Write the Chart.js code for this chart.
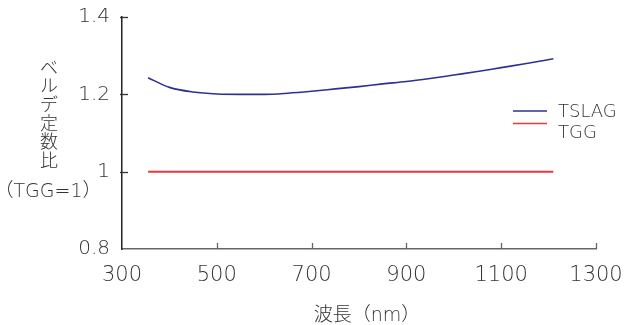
<!DOCTYPE html>
<html>
<head>
<meta charset="utf-8">
<script src="https://cdn.jsdelivr.net/npm/chart.js@4.4.1/dist/chart.umd.min.js"></script>
<style>
  html, body { margin: 0; padding: 0; background: #fff; }
  #wrap { width: 630px; height: 325px; }
</style>
</head>
<body>
<div id="wrap"><canvas id="chart" width="630" height="325"></canvas></div>
<script>
"use strict";

// values
const wavelengths = [355, 400, 450, 500, 550, 600, 650, 700, 750, 800, 850, 900, 950, 1000, 1050, 1100, 1150, 1210];
const tslag = [1.243, 1.218, 1.206, 1.201, 1.200, 1.200, 1.203, 1.208, 1.214, 1.220, 1.227, 1.233, 1.241, 1.250, 1.259, 1.269, 1.279, 1.292];
const tgg = [1, 1, 1, 1, 1, 1, 1, 1, 1, 1, 1, 1, 1, 1, 1, 1, 1, 1];
const seriesNames = ["TSLAG", "TGG"];
const seriesColors = ["#2e3192", "#e8383a"];
const xTicks = [300, 500, 700, 900, 1100, 1300];
const yTicks = [0.8, 1, 1.2, 1.4];
const xTitle = "波長（nm）";
const yTitle = "ベルデ定数比";
const yTitleSub = "（TGG=1）";

const FONT = "'DejaVu Sans', 'Noto Sans CJK JP', sans-serif";
const JFONT = "'Noto Sans CJK JP', sans-serif";
const TEXT = "#333";

// inward ticks, axis titles and legend
const extras = {
    id: "extras",
    afterDraw(chart) {
        const ctx = chart.ctx;
        const xs = chart.scales.x, ys = chart.scales.y;
        const area = chart.chartArea;
        ctx.save();

        ctx.lineWidth = 1.3;
        ctx.strokeStyle = "#333";
        yTicks.forEach(function(v) {
            if (v === yTicks[0]) return;
            const py = Math.round(ys.getPixelForValue(v)) + 0.5;
            ctx.beginPath();
            ctx.moveTo(area.left - 2, py);
            ctx.lineTo(area.left + 6, py);
            ctx.stroke();
        });
        ctx.strokeStyle = "#666";
        xTicks.forEach(function(v) {
            if (v === xTicks[0]) return;
            const px = Math.round(xs.getPixelForValue(v)) + 0.5;
            ctx.beginPath();
            ctx.moveTo(px, area.bottom);
            ctx.lineTo(px, area.bottom - 6);
            ctx.stroke();
        });

        ctx.fillStyle = TEXT;
        ctx.textAlign = "center";
        ctx.textBaseline = "middle";
        ctx.font = "300 18px " + JFONT;
        Array.from(yTitle).forEach(function(ch, i) {
            ctx.fillText(ch, 49, 67 + i * 18.6);
        });
        ctx.font = "300 19px " + FONT;
        ctx.fillText(yTitleSub, 48, 192);

        ctx.font = "300 19px " + FONT;
        ctx.fillText(xTitle, 367, 316);

        // legend
        ctx.font = "300 18px " + FONT;
        ctx.textAlign = "left";
        const rows = [[111, 112], [123.5, 133.5]];
        chart.data.datasets.forEach(function(ds, i) {
            ctx.strokeStyle = ds.borderColor;
            ctx.lineWidth = 1.6;
            ctx.beginPath();
            ctx.moveTo(513, rows[i][0]);
            ctx.lineTo(547, rows[i][0]);
            ctx.stroke();
            ctx.fillStyle = TEXT;
            ctx.fillText(ds.label, 558, rows[i][1]);
        });
        ctx.restore();
    }
};

const chartEl = document.getElementById("chart");
const chart = new Chart(chartEl, {
    type: "line",
    data: {
        datasets: [{
            label: seriesNames[0],
            data: wavelengths.map(function(w, i) { return {x: w, y: tslag[i]}; }),
            borderColor: seriesColors[0],
            borderWidth: 1.6,
            pointRadius: 0,
            cubicInterpolationMode: "monotone",
            fill: false
        }, {
            label: seriesNames[1],
            data: wavelengths.map(function(w, i) { return {x: w, y: tgg[i]}; }),
            borderColor: seriesColors[1],
            borderWidth: 2,
            pointRadius: 0,
            fill: false
        }]
    },
    options: {
        responsive: false,
        animation: false,
        devicePixelRatio: 1,
        layout: { padding: { left: 0, top: 17, right: 34, bottom: 0 } },
        plugins: { legend: { display: false }, tooltip: { enabled: false } },
        scales: {
            x: {
                type: "linear",
                min: 300,
                max: 1300,
                afterBuildTicks: function(scale) {
                    scale.ticks = xTicks.map(function(v) { return {value: v}; });
                },
                afterFit: function(scale) {
                    scale.height = 76;
                    scale.paddingLeft = 0;
                    scale.paddingRight = 0;
                },
                grid: { display: false, drawTicks: false },
                border: { display: true, color: "#666", width: 1.5 },
                ticks: {
                    padding: 14,
                    maxRotation: 0,
                    color: TEXT,
                    font: { family: FONT, size: 21, weight: 300 },
                    callback: function(v) { return String(v); }
                }
            },
            y: {
                min: 0.8,
                max: 1.4,
                afterBuildTicks: function(scale) {
                    scale.ticks = yTicks.map(function(v) { return {value: v}; });
                },
                afterFit: function(scale) {
                    scale.width = 122;
                    scale.paddingTop = 0;
                    scale.paddingBottom = 0;
                },
                grid: { display: false, drawTicks: false },
                border: { display: true, color: "#222", width: 1.5 },
                ticks: {
                    padding: 12,
                    color: TEXT,
                    font: { family: FONT, size: 20, weight: 300 },
                    callback: function(v) { return String(Number(v.toFixed(1))); }
                }
            }
        }
    },
    plugins: [extras]
});
</script>
</body>
</html>
